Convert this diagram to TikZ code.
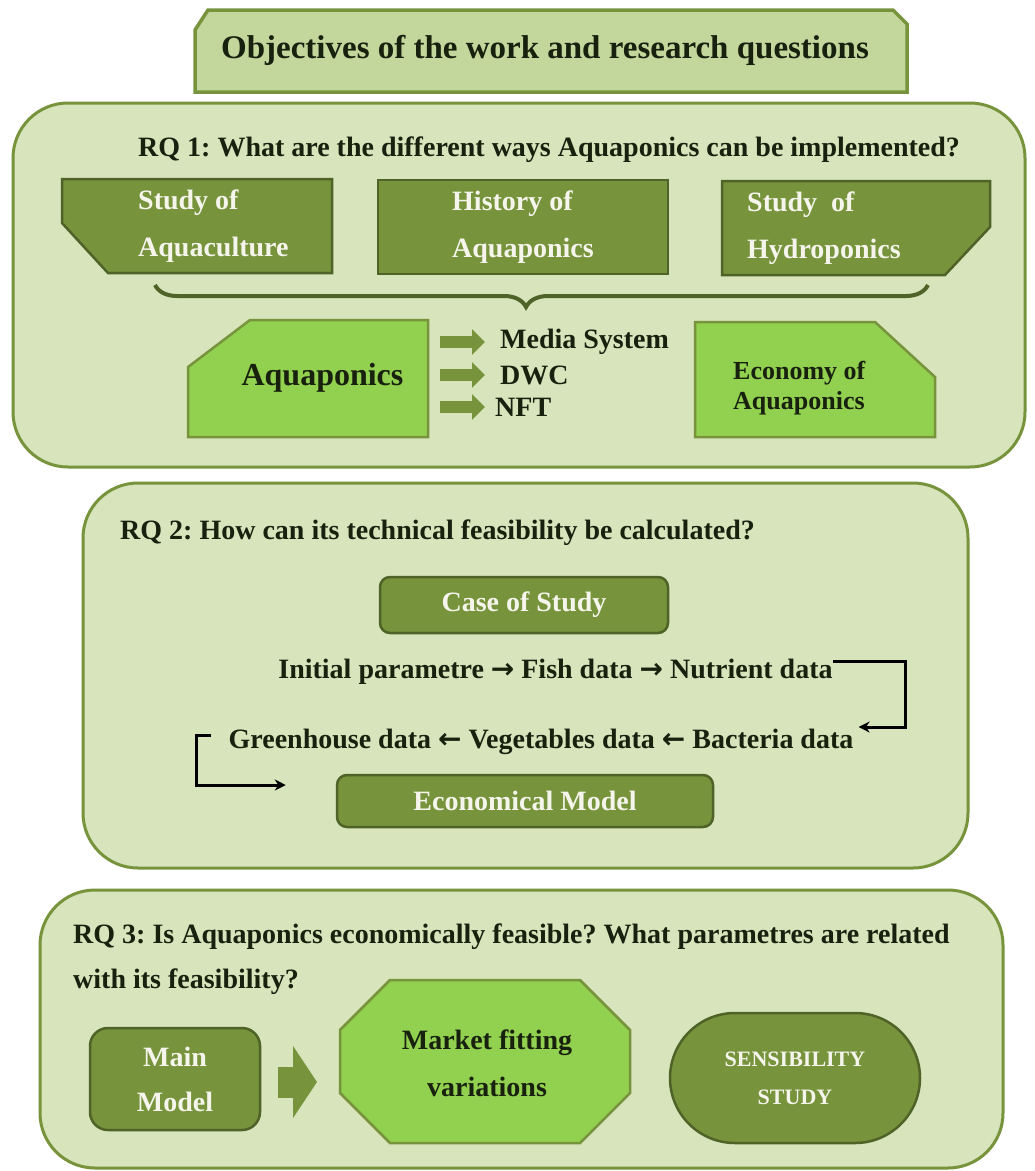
\documentclass[tikz,border=0pt]{standalone}
\usepackage{fontspec}
\setmainfont{Liberation Serif}
\newfontfamily\arrowfont{DejaVu Sans}
\usepackage{tikz}
\usetikzlibrary{arrows.meta,positioning,decorations.pathreplacing}

\definecolor{panelfill}{HTML}{D8E4BC}
\definecolor{titlefill}{HTML}{C3D69B}
\definecolor{olive}{HTML}{77933C}
\definecolor{darkolive}{HTML}{4F6228}
\definecolor{brightgreen}{HTML}{92D050}
\definecolor{inkdark}{HTML}{18200E}
\definecolor{inklight}{HTML}{F5F5EC}

\newcommand{\setfs}[2]{\fontsize{#1}{#2}\selectfont}
\frenchspacing

\begin{document}
\begin{tikzpicture}[x=1pt, y=-1pt,
  panel/.style={draw=olive, fill=panelfill, line width=3pt, rounded corners=55pt, inner sep=0pt},
  frame/.style={inner sep=0pt, outer sep=0pt},
  qtext/.style={font=\bfseries\setfs{28}{45}, text=inkdark, inner sep=0pt, anchor=west, align=left},
  darkbox/.style={draw=darkolive, fill=olive, line width=2.5pt, text=inklight,
                  font=\bfseries\setfs{28}{47}, align=center, inner sep=0pt},
  darkshape/.style={draw=darkolive, fill=olive, line width=2.5pt},
  greenshape/.style={draw=olive, fill=brightgreen, line width=2.5pt},
  wtext/.style={font=\bfseries\setfs{28}{47}, text=inklight, inner sep=0pt, anchor=west, align=left},
  plain/.style={font=\bfseries\setfs{28}{34}, text=inkdark, inner sep=0pt},
  fatarr/.style={draw=olive, line width=12pt, -{Triangle[width=25pt,length=13pt]}},
  looparr/.style={draw=black, line width=3pt, -{Stealth[length=11pt,width=11pt]}},
  hooks/.style={decorate, decoration={brace, amplitude=22pt, aspect=0.52},
                draw=darkolive, line width=4pt}]
\useasboundingbox (0,0) rectangle (1035,1171);

% heading
\node[frame, minimum width=712pt, minimum height=82pt] (titleframe) at (551,51) {};
\draw[draw=olive, fill=titlefill, line width=3.5pt]
  (titleframe.south west) -- ([yshift=-20pt]titleframe.north west) -- ([xshift=13pt]titleframe.north west)
  -- ([xshift=-14pt]titleframe.north east) -- ([yshift=-14pt]titleframe.north east)
  -- (titleframe.south east) -- cycle;
\node[plain, font=\bfseries\setfs{33}{40}] (title) at (545,50) {Objectives of the work and research questions};

% the three panels
\node[panel, minimum width=1012pt, minimum height=364pt] (rq1) at (519,285) {};
\node[panel, minimum width=885pt, minimum height=385pt] (rq2) at (525.5,675.5) {};
\node[panel, minimum width=963pt, minimum height=278pt] (rq3) at (521.5,1029) {};

% RQ 1
\node[qtext] (q1) at (138,150) {RQ 1: What are the different ways Aquaponics can be implemented?};
\node[frame, minimum width=270pt, minimum height=94pt] (aquacult) at (197,226) {};
\draw[darkshape] (aquacult.north west) -- (aquacult.north east) -- (aquacult.south east)
  -- ([xshift=46pt]aquacult.south west) -- ([yshift=50pt]aquacult.south west) -- cycle;
\node[wtext] (aquacult-t) at (138,226) {Study of\\Aquaculture};
\node[darkbox, minimum width=290pt, minimum height=94pt, align=left] (history) at (523,227) {History of\\Aquaponics};
\node[frame, minimum width=268pt, minimum height=94pt] (hydro) at (856,228) {};
\draw[darkshape] (hydro.north west) -- (hydro.north east) -- ([yshift=48pt]hydro.south east)
  -- ([xshift=-45pt]hydro.south east) -- (hydro.south west) -- cycle;
\node[wtext] (hydro-t) at (747,228) {Study\ \ of\\Hydroponics};
\draw[hooks] (928,285) -- (155,285);

\node[frame, minimum width=240pt, minimum height=117pt] (aqua) at (308,378.5) {};
\draw[greenshape] ([yshift=-47pt]aqua.north west) -- ([xshift=62pt]aqua.north west) -- (aqua.north east)
  -- (aqua.south east) -- (aqua.south west) -- cycle;
\node[plain, font=\bfseries\setfs{32}{38}] (aqua-t) at (322.5,378) {Aquaponics};
\node[plain, anchor=west] (media) at (500,342) {Media System};
\node[plain, anchor=west] (dwc) at (500,375) {DWC};
\node[plain, anchor=west] (nft) at (495,407) {NFT};
\foreach \t/\g in {media/-15pt,dwc/-15pt,nft/-10pt}
  \draw[fatarr] ([xshift=12pt]aqua.east |- \t.west) -- ([xshift=\g]\t.west);

\node[frame, minimum width=240pt, minimum height=115pt] (econ) at (815,379.5) {};
\draw[greenshape] (econ.north west) -- ([xshift=-60pt]econ.north east) -- ([yshift=-55pt]econ.north east)
  -- (econ.south east) -- (econ.south west) -- cycle;
\node[plain, anchor=west, align=left, font=\bfseries\setfs{26}{30}] (econ-t) at (733,388)
  {Economy of\\Aquaponics};

% RQ 2
\node[qtext] (q2) at (120,533) {RQ 2: How can its technical feasibility be calculated?};
\node[darkbox, rounded corners=10pt, minimum width=288pt, minimum height=56pt] (case)
  at (524,605) {Case of Study};
\node[plain] (chain1) at (555.5,672)
  {Initial parametre {\arrowfont →} Fish data {\arrowfont →} Nutrient data};
\node[plain] (chain2) at (541,742)
  {Greenhouse data {\arrowfont ←} Vegetables data {\arrowfont ←} Bacteria data};
\node[darkbox, rounded corners=10pt, minimum width=376pt, minimum height=52pt] (ecmodel)
  at (525,801) {Economical Model};
\draw[looparr] ([yshift=11pt]chain1.east) -| ([shift={(52pt,15pt)}]chain2.east)
  -- ([shift={(5pt,15pt)}]chain2.east);
\draw[looparr] ([shift={(-17pt,7pt)}]chain2.west) -- ++(-15,0)
  |- ([shift={(-50pt,16pt)}]ecmodel.west);

% RQ 3
\node[qtext] (q3) at (73,959.5)
  {RQ 3: Is Aquaponics economically feasible? What parametres are related\\with its feasibility?};
\node[darkbox, rounded corners=18pt, minimum width=170pt, minimum height=102pt,
      font=\bfseries\setfs{28}{45}] (mainmodel) at (175,1079) {Main\\Model};
\node[frame, minimum width=290pt, minimum height=163pt] (market) at (485,1061.5) {};
\draw[greenshape] ([yshift=-50pt]market.north west) -- ([xshift=50pt]market.north west)
  -- ([xshift=-50pt]market.north east) -- ([yshift=-50pt]market.north east)
  -- ([yshift=50pt]market.south east) -- ([xshift=-50pt]market.south east)
  -- ([xshift=50pt]market.south west) -- ([yshift=50pt]market.south west) -- cycle;
\node[plain, align=center, font=\bfseries\setfs{28}{47}] (market-t) at (487,1063.5)
  {Market fitting\\variations};
\node[darkbox, rounded corners=65pt, minimum width=250pt, minimum height=130pt,
      font=\bfseries\setfs{22}{38}] (sens) at (795,1078) {SENSIBILITY\\STUDY};
\draw[draw=olive, line width=31pt, -{Triangle[width=71pt,length=24pt]}]
  ([xshift=17pt,yshift=-3pt]mainmodel.east) -- ([xshift=-23pt,yshift=-3pt]market.west |- mainmodel.east);
\end{tikzpicture}
\end{document}
